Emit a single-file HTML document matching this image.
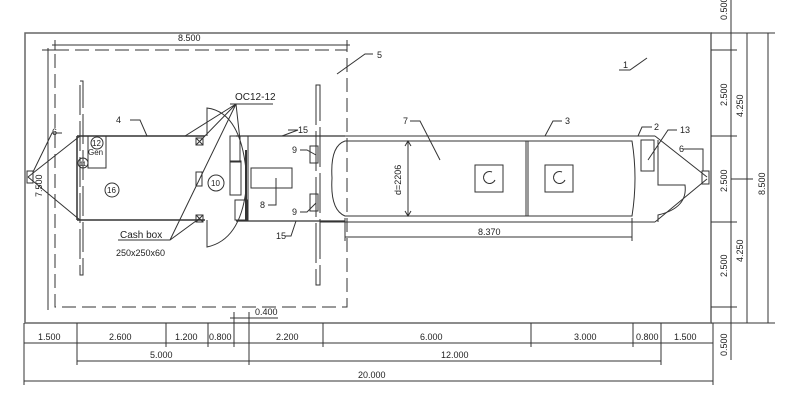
<!DOCTYPE html>
<html><head><meta charset="utf-8"><style>
html,body{margin:0;padding:0;background:#fff}
svg{display:block}
text{font-family:"Liberation Sans",sans-serif;font-size:9px;fill:#222}
</style></head><body>
<svg width="790" height="400" viewBox="0 0 790 400" xmlns="http://www.w3.org/2000/svg">
<g stroke="#333" stroke-width="1" fill="none">
<!-- outer frame -->
<rect x="25" y="33" width="686" height="290" stroke="#666" stroke-width="1.5"/>
<line x1="711" y1="33" x2="775" y2="33"/>
<line x1="711" y1="323" x2="775" y2="323"/>
<line x1="731" y1="0" x2="731" y2="360"/>
<line x1="747" y1="33" x2="747" y2="323"/>
<line x1="768" y1="33" x2="768" y2="323"/>
<line x1="711" y1="50" x2="737" y2="50"/>
<line x1="711" y1="136" x2="737" y2="136"/>
<line x1="711" y1="222" x2="737" y2="222"/>
<line x1="711" y1="307" x2="737" y2="307"/>
<line x1="731" y1="179" x2="753" y2="179"/>
<!-- platform dashed -->
<rect x="55" y="50" width="292" height="257" stroke-dasharray="14,6"/>
<line x1="48" y1="48" x2="48" y2="310"/>
<line x1="42" y1="50" x2="60" y2="50"/>
<line x1="52" y1="45" x2="350" y2="45"/>
<line x1="55" y1="40" x2="55" y2="50"/>
<line x1="347" y1="40" x2="347" y2="50"/>
<rect x="80" y="81" width="3" height="194" stroke-dasharray="30,6"/>
<rect x="316" y="85" width="4" height="200" stroke-dasharray="40,6"/>
<!-- tractor -->
<line x1="77" y1="136" x2="205" y2="136" stroke-width="1.5"/>
<line x1="77" y1="220" x2="205" y2="220" stroke-width="1.5"/>
<line x1="77" y1="136" x2="77" y2="220" stroke-width="1.5"/>
<line x1="28" y1="177" x2="80" y2="136"/>
<line x1="28" y1="177" x2="80" y2="220"/>
<rect x="27" y="171" width="6" height="12"/>
<rect x="88" y="136" width="18" height="32"/>
<circle cx="97" cy="143" r="6"/>
<circle cx="83" cy="163" r="5"/>
<circle cx="112" cy="190" r="7"/>
<rect x="196" y="138" width="7" height="7"/><path d="M196 138l7 7M203 138l-7 7"/>
<rect x="196" y="215" width="7" height="7"/><path d="M196 215l7 7M203 215l-7 7"/>
<rect x="196" y="172" width="6" height="14"/>
<circle cx="216" cy="183" r="8"/>
<path d="M207 136V108Q240 112 246 170"/>
<path d="M207 220V247Q240 240 246 190"/>
<rect x="230" y="136" width="10" height="26"/>
<rect x="230" y="161" width="11" height="34"/>
<rect x="235" y="200" width="12" height="20"/>
<line x1="246" y1="150" x2="246" y2="220" stroke-width="2"/>
<!-- cabin 2 -->
<line x1="236" y1="136" x2="345" y2="136" stroke-width="1.3"/>
<line x1="236" y1="221" x2="345" y2="221" stroke-width="1.3"/>
<line x1="248" y1="136" x2="248" y2="221"/>
<rect x="251" y="168" width="41" height="20"/>
<rect x="310" y="146" width="8" height="17"/>
<rect x="310" y="194" width="8" height="17"/>
<!-- tank -->
<line x1="320" y1="136" x2="655" y2="136"/>
<line x1="320" y1="222" x2="655" y2="222"/>
<path d="M345 141H632Q638 178 632 216H345Q330 210 332 178Q330 146 345 141Z"/>
<line x1="526" y1="141" x2="526" y2="216"/><line x1="528" y1="141" x2="528" y2="216"/>
<rect x="475" y="165" width="28" height="27"/><path d="M492 172a6 6 0 1 0 3 8"/>
<rect x="545" y="165" width="28" height="27"/><path d="M562 172a6 6 0 1 0 3 8"/>
<line x1="655" y1="136" x2="707" y2="177"/>
<line x1="655" y1="222" x2="707" y2="179"/>
<rect x="641" y="140" width="13" height="31"/>
<path d="M658 140V185H685Q688 208 658 215V222"/>
<rect x="702" y="171" width="7" height="13"/>
<!-- dims internal -->
<line x1="408" y1="141" x2="408" y2="216"/>
<path d="M405 146l3-5 3 5M405 211l3 5 3-5"/>
<line x1="345" y1="237" x2="632" y2="237"/>
<line x1="345" y1="218" x2="345" y2="241"/><line x1="632" y1="218" x2="632" y2="241"/>
<!-- 0.400 -->
<line x1="230" y1="318" x2="278" y2="318"/>
<line x1="234" y1="312" x2="234" y2="323"/><line x1="249" y1="312" x2="249" y2="323"/>
<!-- bottom dims -->
<line x1="24" y1="343" x2="713" y2="343"/>
<line x1="77" y1="361" x2="661" y2="361"/>
<line x1="24" y1="381" x2="713" y2="381"/>
<path d="M24 323V385M77 323V365M166 323V347M208 323V347M234 323V347M249 323V365M323 323V347M531 323V347M633 323V347M661 323V365M713 323V385"/>
<!-- leaders -->
<path d="M130 120H140L147 136"/>
<path d="M62 133H52L33 172"/>
<path d="M288 130H298L282 136"/>
<path d="M285 236H291L296 221"/>
<path d="M300 150H307L316 155"/>
<path d="M300 212H307L316 203"/>
<path d="M268 205H276V178"/>
<path d="M410 121H420L440 160"/>
<path d="M562 121H553L545 136"/>
<path d="M652 127H642L638 136"/>
<path d="M677 130H668L648 160"/>
<path d="M683 149H703V171"/>
<path d="M619 70H630L647 58"/>
<path d="M373 54H365L337 74"/>
<path d="M230 104H273M236 104L185 136M236 104L200 141M236 104L240 140M236 104L170 240"/>
<path d="M118 240H170L200 218"/>
</g>
<g>
<text x="178" y="41">8.500</text>
<text x="377" y="58">5</text>
<text x="623" y="68">1</text>
<text x="235" y="100" style="font-size:10px">OC12-12</text>
<text x="116" y="123">4</text>
<text x="52" y="135">6</text>
<text x="298" y="133">15</text>
<text x="276" y="239">15</text>
<text x="292" y="153">9</text>
<text x="292" y="215">9</text>
<text x="260" y="208">8</text>
<text x="403" y="124">7</text>
<text x="565" y="124">3</text>
<text x="654" y="130">2</text>
<text x="680" y="133">13</text>
<text x="679" y="152">6</text>
<text x="92" y="146" style="font-size:8px">12</text>
<text x="88" y="155" style="font-size:8px">Gen</text>
<text x="80" y="166" style="font-size:6px">11</text>
<text x="107" y="193" style="font-size:8px">16</text>
<text x="211" y="186" style="font-size:8px">10</text>
<text x="120" y="238" style="font-size:10px">Cash box</text>
<text x="116" y="256">250x250x60</text>
<text x="478" y="235">8.370</text>
<text transform="translate(401,195) rotate(-90)">d=2206</text>
<text transform="translate(42,197) rotate(-90)">7.500</text>
<text x="255" y="315">0.400</text>
<text x="38" y="340">1.500</text>
<text x="109" y="340">2.600</text>
<text x="175" y="340">1.200</text>
<text x="209" y="340">0.800</text>
<text x="276" y="340">2.200</text>
<text x="420" y="340">6.000</text>
<text x="574" y="340">3.000</text>
<text x="636" y="340">0.800</text>
<text x="674" y="340">1.500</text>
<text x="150" y="358">5.000</text>
<text x="441" y="358">12.000</text>
<text x="358" y="378">20.000</text>
<text transform="translate(727,20) rotate(-90)">0.500</text>
<text transform="translate(727,106) rotate(-90)">2.500</text>
<text transform="translate(727,192) rotate(-90)">2.500</text>
<text transform="translate(727,277) rotate(-90)">2.500</text>
<text transform="translate(727,356) rotate(-90)">0.500</text>
<text transform="translate(743,117) rotate(-90)">4.250</text>
<text transform="translate(743,262) rotate(-90)">4.250</text>
<text transform="translate(765,195) rotate(-90)">8.500</text>
</g>
</svg>
</body></html>
